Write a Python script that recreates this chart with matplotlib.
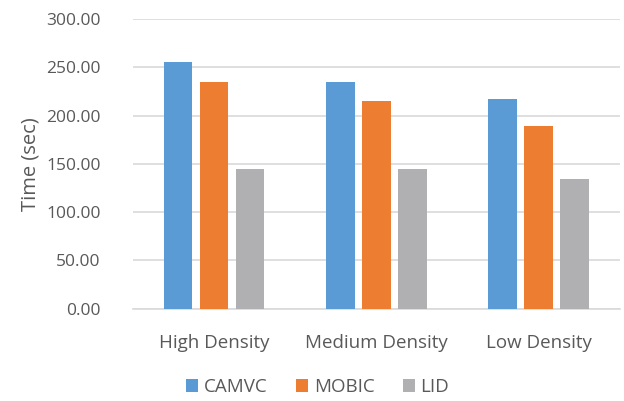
import numpy as np
import matplotlib
matplotlib.use('Agg')
import matplotlib.pyplot as plt

# data
categories = ['High Density', 'Medium Density', 'Low Density']
series = ['CAMVC', 'MOBIC', 'LID']
camvc = [255, 235, 217]
mobic = [235, 215, 189]
lid = [145, 145, 134]
yticks = [0, 50, 100, 150, 200, 250, 300]

colors = ['#5B9BD5', '#ED7D31', '#B0B0B2']
txt = '#595959'

plt.rcParams['font.family'] = ['Open Sans', 'DejaVu Sans']

fig = plt.figure(figsize=(6.24, 4.01), dpi=100)
ax = fig.add_axes([0.2127, 0.2302, 0.7809, 0.7224])

x = np.arange(len(categories))
w = 0.177
step = 0.222
for i, (vals, name) in enumerate(zip([camvc, mobic, lid], series)):
    ax.bar(x + (i - 1) * step, vals, w, color=colors[i], label=name, zorder=3)

ax.set_xlim(-0.5, 2.5)
ax.set_ylim(0, 300)
ax.set_yticks(yticks)
ax.set_yticklabels(['%.2f' % v for v in yticks])
ax.set_xticks(x)
ax.set_xticklabels(categories)
ax.tick_params(axis='both', length=0, labelcolor=txt)
ax.tick_params(axis='y', pad=23, labelsize=12.5)
ax.tick_params(axis='x', pad=18, labelsize=13.5)
ax.grid(axis='y', color='#D9D9D9', lw=1.2, zorder=0)
for s in ['top', 'right', 'left']:
    ax.spines[s].set_visible(False)
ax.spines['bottom'].set_color('#D9D9D9')
ax.spines['bottom'].set_linewidth(1.2)
ax.set_ylabel('Time (sec)', fontsize=14.5, color=txt, labelpad=4)

fig.legend(loc='center', bbox_to_anchor=(0.509, 0.035), ncol=3, frameon=False,
           fontsize=13.5, labelcolor=txt, handlelength=0.65, handleheight=0.65,
           handletextpad=0.3, columnspacing=1.5)

plt.savefig('out.png', dpi=100)
